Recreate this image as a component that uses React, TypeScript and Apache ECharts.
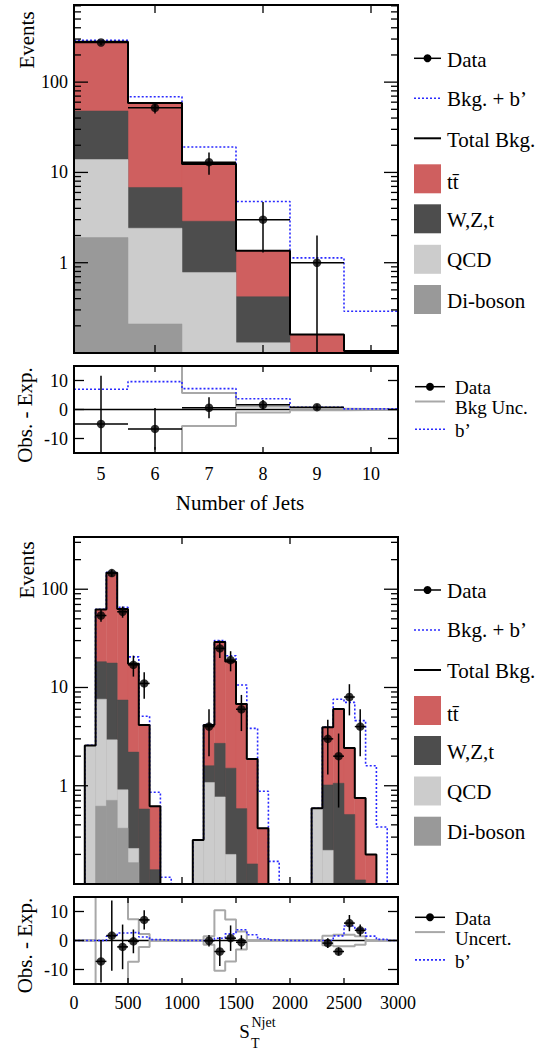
import React, { useEffect, useRef } from "react";
import * as echarts from "echarts";

const FONT = "Liberation Serif";

// ---------------- Upper figure: Number of Jets ----------------
const njetCenters = [5, 6, 7, 8, 9, 10];
const njetTtbar = [232, 52, 9.5, 0.94, 0.08, 0.05];
const njetWZt = [34, 4.4, 2.1, 0.29, 0.04, 0.03];
const njetQCD = [12.0, 2.2, 0.73, 0.11, 0.03, 0.02];
const njetDiboson = [1.9, 0.21, 0.05, 0.02, 0.01, 0.005];
const njetBkgPlusBprime = [290, 69, 19.1, 4.76, 1.13, 0.29];
const njetDataX = [5, 6, 7, 8, 9];
const njetData = [275, 52, 13, 3, 1];
const njetDataErr = [16.6, 7.2, 3.6, 1.7, 1.0];
const njetResidual = [-5.0, -6.7, 0.6, 1.6, 0.8];
const njetBkgUnc = [20, 20, 5.7, 1.0, 0.3, 0.1];
const njetBprime = [7.0, 9.6, 7.2, 3.7, 0.8, 0.2];
const njetTickX = [6, 8, 10];

// ---------------- Lower figure: S_T^Njet ----------------
const stBinLow = [0, 100, 200, 300, 400, 500, 600, 700, 800, 900, 1000, 1100, 1200, 1300, 1400, 1500, 1600, 1700, 1800, 1900, 2000, 2100, 2200, 2300, 2400, 2500, 2600, 2700, 2800, 2900];
const stTtbar = [0, 0.01, 43.7, 129.3, 55.6, 15.2, 3.57, 0.48, 0, 0, 0, 0, 2.54, 26.3, 16.9, 6.22, 1.71, 0.3, 0.05, 0, 0, 0, 0, 2.91, 4.97, 1.91, 0.64, 0.15, 0.03, 0];
const stWZt = [0, 0.01, 10.7, 14.8, 6.54, 1.97, 0.52, 0.11, 0, 0, 0, 0, 0.52, 1.93, 1.31, 0.53, 0.14, 0.06, 0.01, 0, 0, 0, 0, 0.8, 1.0, 0.49, 0.1, 0.05, 0.01, 0];
const stQCD = [0, 2.53, 6.98, 2.22, 0.54, 0.065, 0.03, 0.02, 0, 0, 0, 0.28, 1.07, 0.76, 0.19, 0.05, 0.02, 0.01, 0, 0, 0, 0, 0.59, 0.21, 0.05, 0.02, 0.01, 0, 0, 0];
const stDiboson = [0, 0.02, 0.62, 0.71, 0.37, 0.165, 0.03, 0.01, 0, 0, 0, 0, 0.01, 0.01, 0.01, 0.005, 0, 0, 0, 0, 0, 0, 0, 0.01, 0.01, 0, 0, 0, 0, 0];
const stBkgPlusBprime = [0, 2.58, 62.5, 149, 65.5, 20.5, 5.1, 0.86, 0.117, 0, 0, 0.28, 4.2, 30, 21, 10.6, 3.84, 0.88, 0.17, 0, 0, 0, 0.59, 3.95, 7.6, 7.05, 4.6, 1.6, 0.38, 0.05];
const stBprime = [0, 0, 0, 1.5, 2.6, 2.8, 1.2, 0.3, 0.1, 0, 0, 0, 0, 0.8, 2.3, 3.7, 2.0, 0.6, 0.15, 0, 0, 0, 0, 0, 1.6, 5.0, 4.0, 1.5, 0.4, 0];
const stUnc = [0, 0, 20, 20, 20, 7.3, 2.2, 0, 0, 0, 0, 0, 1.5, 10.4, 7.2, 3.1, 0, 0, 0, 0, 0, 0, 0, 1.6, 2.0, 2.0, 1.5, 0, 0, 0];
const stDataX = [250, 350, 450, 550, 650, 1250, 1350, 1450, 1550, 2350, 2450, 2550, 2650];
const stData = [54, 146, 59, 17, 11, 4, 25, 19, 6, 3, 2, 8, 4];
const stDataErr = [7.3, 12.1, 7.7, 4.1, 3.3, 2.0, 5.0, 4.4, 2.4, 1.7, 1.4, 2.8, 2.0];
const stResidual = [-7.2, 1.7, -2.2, -0.3, 7.1, -0.1, -3.8, 0.8, -0.6, -0.9, -3.8, 6.0, 3.5];
const stTickXMain = [1000, 2000];
const stTickXRes = [500, 1000, 1500, 2000, 2500];

const residTicks = [-10, 0, 10];
const logMajor = [1, 10, 100];
const logMinorMult = [2, 3, 4, 5, 6, 7, 8, 9];
const logDecades = [0.1, 1, 10, 100];

const RED = "#cf5f5f";
const WZT = "#4d4d4d";
const QCDC = "#cccccc";
const DIB = "#999999";
const BLUE = "#2a2aff";
const UNC = "#a8a8a8";

const mainLegend = [
  { label: "t\u0074\u0304", color: RED },
  { label: "W,Z,t", color: WZT },
  { label: "QCD", color: QCDC },
  { label: "Di-boson", color: DIB },
];

function cumulative(...arrs: number[][]) {
  return arrs[0].map((_, i) => arrs.reduce((s, a) => s + a[i], 0));
}

function histSeries(g: number, lows: number[], width: number, values: number[], color: string, ymin: number, ymax: number) {
  return {
    type: "custom",
    xAxisIndex: g,
    yAxisIndex: g,
    silent: true,
    z: 2,
    data: lows.map((lo, i) => [lo, lo + width, values[i]]).filter((d) => d[2] > ymin),
    encode: { x: [0, 1], y: 2 },
    renderItem: (params: any, api: any) => {
      const lo = api.value(0);
      const hi = api.value(1);
      const v = Math.min(api.value(2), ymax);
      const p1 = api.coord([lo, v]);
      const p2 = api.coord([hi, ymin]);
      return {
        type: "rect",
        shape: { x: p1[0], y: p1[1], width: p2[0] - p1[0], height: p2[1] - p1[1] },
        style: { fill: color, stroke: color, lineWidth: 0.5 },
      };
    },
  };
}

function stepSeries(g: number, lows: number[], width: number, values: number[], floor: number, lineStyle: any, z = 3) {
  const data = lows.map((lo, i) => [lo, Math.max(values[i], floor)]);
  data.push([lows[lows.length - 1] + width, Math.max(values[values.length - 1], floor)]);
  return {
    type: "line",
    xAxisIndex: g,
    yAxisIndex: g,
    step: "end",
    symbol: "none",
    silent: true,
    clip: true,
    z,
    data,
    lineStyle,
  };
}

function errSeries(g: number, xs: number[], ys: number[], errs: number[], hw: number, xmin: number, xmax: number, ymin: number, ymax: number) {
  return {
    type: "custom",
    xAxisIndex: g,
    yAxisIndex: g,
    silent: true,
    z: 4,
    data: xs.map((x, i) => [x, ys[i], errs[i]]),
    encode: { x: 0, y: 1 },
    renderItem: (params: any, api: any) => {
      const x = api.value(0);
      const y = api.value(1);
      const e = api.value(2);
      const lo = Math.max(y - e, ymin);
      const hi = Math.min(y + e, ymax);
      const pLo = api.coord([x, lo]);
      const pHi = api.coord([x, hi]);
      const pL = api.coord([Math.max(x - hw, xmin), y]);
      const pR = api.coord([Math.min(x + hw, xmax), y]);
      const st = { stroke: "#000", lineWidth: 1.5 };
      return {
        type: "group",
        children: [
          { type: "line", shape: { x1: pLo[0], y1: pLo[1], x2: pHi[0], y2: pHi[1] }, style: st },
          { type: "line", shape: { x1: pL[0], y1: pL[1], x2: pR[0], y2: pR[1] }, style: st },
        ],
      };
    },
  };
}

function scatterSeries(g: number, xs: number[], ys: number[]) {
  return {
    type: "scatter",
    xAxisIndex: g,
    yAxisIndex: g,
    silent: true,
    z: 5,
    symbol: "circle",
    symbolSize: 8.5,
    itemStyle: { color: "#000" },
    data: xs.map((x, i) => [x, ys[i]]),
  };
}

function frameSeries(g: number, xmin: number, xmax: number, ymin: number, ymax: number, yTicks: number[][], xTicks: number[][]) {
  return {
    type: "custom",
    xAxisIndex: g,
    yAxisIndex: g,
    silent: true,
    z: 10,
    data: [[xmin, ymin]],
    encode: { x: 0, y: 1 },
    renderItem: (params: any, api: any) => {
      const st = { stroke: "#000", lineWidth: 1.3 };
      const children: any[] = [];
      for (const [v, len] of yTicks) {
        const l = api.coord([xmin, v]);
        const r = api.coord([xmax, v]);
        children.push({ type: "line", shape: { x1: l[0], y1: l[1], x2: l[0] + len, y2: l[1] }, style: st });
        children.push({ type: "line", shape: { x1: r[0] - len, y1: r[1], x2: r[0], y2: r[1] }, style: st });
      }
      for (const [v, len] of xTicks) {
        const b = api.coord([v, ymin]);
        const t = api.coord([v, ymax]);
        children.push({ type: "line", shape: { x1: b[0], y1: b[1], x2: b[0], y2: b[1] - len }, style: st });
        children.push({ type: "line", shape: { x1: t[0], y1: t[1], x2: t[0], y2: t[1] + len }, style: st });
      }
      const tl = api.coord([xmin, ymax]);
      const br = api.coord([xmax, ymin]);
      children.push({
        type: "rect",
        shape: { x: tl[0], y: tl[1], width: br[0] - tl[0], height: br[1] - tl[1] },
        style: { fill: "none", stroke: "#000", lineWidth: 2 },
      });
      return { type: "group", children };
    },
  };
}

function logTicks(ymax: number) {
  const t: number[][] = logMajor.map((v) => [v, 14]);
  for (const d of logDecades) for (const k of logMinorMult) if (d * k < ymax) t.push([d * k, 7]);
  return t;
}

function gText(x: number, y: number, text: string, size = 21, align = "left", rotation = 0) {
  return {
    type: "text",
    x,
    y,
    rotation,
    silent: true,
    z: 20,
    style: { text, fontSize: size, fontFamily: FONT, fill: "#000", align, verticalAlign: "middle", textAlign: align, textVerticalAlign: "middle" },
  };
}

function gLine(x1: number, y1: number, x2: number, y2: number, stroke: string, lineWidth: number, lineDash?: number[]) {
  return { type: "line", silent: true, z: 20, shape: { x1, y1, x2, y2 }, style: { stroke, lineWidth, lineDash } };
}

function legendMain(dy: number) {
  const els: any[] = [];
  const x1 = 414, x2 = 441, tx = 447;
  els.push(gLine(x1, 58.3 + dy, x2, 58.3 + dy, "#000", 1.5));
  els.push({ type: "circle", silent: true, z: 20, shape: { cx: (x1 + x2) / 2, cy: 58.3 + dy, r: 4 }, style: { fill: "#000" } });
  els.push(gText(tx, 59.5 + dy, "Data"));
  els.push(gLine(x1, 98.3 + dy, x2, 98.3 + dy, BLUE, 1.6, [2, 2]));
  els.push(gText(tx, 98.5 + dy, "Bkg. + b\u2019"));
  els.push(gLine(x1, 138.3 + dy, x2, 138.3 + dy, "#000", 2));
  els.push(gText(tx, 139.5 + dy, "Total Bkg."));
  const boxTop = [164.3, 204.3, 244.8, 285];
  mainLegend.forEach((it, i) => {
    els.push({ type: "rect", silent: true, z: 20, shape: { x: x1, y: boxTop[i] + dy, width: 27, height: 29 }, style: { fill: it.color } });
    els.push(gText(tx, boxTop[i] + 15.5 + dy + (i === 0 ? 2 : 0), it.label));
  });
  return els;
}

function legendRes(dy: number, uncLabel: string) {
  const x1 = 415, x2 = 445, tx = 455;
  return [
    gLine(x1, 386.7 + dy, x2, 386.7 + dy, "#000", 1.5),
    { type: "circle", silent: true, z: 20, shape: { cx: (x1 + x2) / 2, cy: 386.7 + dy, r: 4 }, style: { fill: "#000" } },
    gText(tx, 387.5 + dy, "Data", 19),
    gLine(x1, 401.5 + dy, x2, 401.5 + dy, UNC, 2),
    gText(tx, 407.5 + dy, uncLabel, 19),
    gLine(x1, 429.3 + dy, x2, 429.3 + dy, BLUE, 1.6, [2, 2]),
    gText(tx, 430.5 + dy, "b\u2019", 19),
  ];
}

function buildOption() {
  const T = { xmin: 4.5, xmax: 10.5, ymin: 0.1, ymax: 715 };
  const B = { xmin: 0, xmax: 3000, ymin: 0.1, ymax: 340 };
  const R = { min: -15, max: 15 };

  const njetLow = njetCenters.map((c) => c - 0.5);
  const njetTotal = cumulative(njetTtbar, njetWZt, njetQCD, njetDiboson);
  const njetWZtCum = cumulative(njetWZt, njetQCD, njetDiboson);
  const njetQCDCum = cumulative(njetQCD, njetDiboson);

  const stTotal = cumulative(stTtbar, stWZt, stQCD, stDiboson);
  const stWZtCum = cumulative(stWZt, stQCD, stDiboson);
  const stQCDCum = cumulative(stQCD, stDiboson);

  const labelBase = { color: "#000", fontFamily: FONT, fontSize: 18 };
  const logFmt = (v: number) => {
    const l = Math.log10(v);
    const r = Math.round(l);
    if (Math.abs(l - r) < 1e-6 && r >= 0 && r <= 2) return String(Math.round(Math.pow(10, r)));
    return "";
  };
  const resFmt = (v: number) => (Math.abs(Math.abs(v) - 10) < 1e-9 || Math.abs(v) < 1e-9 ? String(Math.round(v)) : "");
  const intFmt = (v: number) => (Math.abs(v - Math.round(v)) < 1e-9 ? String(Math.round(v)) : "");
  const hidden = { axisLine: { show: false }, axisTick: { show: false }, splitLine: { show: false } };

  const resYTicks = residTicks.map((v) => [v, 10]);
  const floorLog = 1e-3;

  const series: any[] = [
    // ---- grid 0: Njet main
    histSeries(0, njetLow, 1, njetTotal, RED, T.ymin, T.ymax),
    histSeries(0, njetLow, 1, njetWZtCum, WZT, T.ymin, T.ymax),
    histSeries(0, njetLow, 1, njetQCDCum, QCDC, T.ymin, T.ymax),
    histSeries(0, njetLow, 1, njetDiboson, DIB, T.ymin, T.ymax),
    stepSeries(0, njetLow, 1, njetBkgPlusBprime, floorLog, { color: BLUE, width: 1.6, type: [2, 2] }),
    stepSeries(0, njetLow, 1, njetTotal, floorLog, { color: "#000", width: 2 }),
    errSeries(0, njetDataX, njetData, njetDataErr, 0.5, T.xmin, T.xmax, T.ymin, T.ymax),
    scatterSeries(0, njetDataX, njetData),
    frameSeries(0, T.xmin, T.xmax, T.ymin, T.ymax, logTicks(T.ymax), njetTickX.map((v) => [v, 8])),
    // ---- grid 1: Njet residual
    { type: "line", xAxisIndex: 1, yAxisIndex: 1, symbol: "none", silent: true, z: 2, data: [[T.xmin, 0], [T.xmax, 0]], lineStyle: { color: "#000", width: 1.5 } },
    stepSeries(1, njetLow, 1, njetBkgUnc, -Infinity, { color: UNC, width: 2 }),
    stepSeries(1, njetLow, 1, njetBkgUnc.map((v) => -v), -Infinity, { color: UNC, width: 2 }),
    stepSeries(1, njetLow, 1, njetBprime, -Infinity, { color: BLUE, width: 1.6, type: [2, 2] }),
    errSeries(1, njetDataX, njetResidual, njetDataErr, 0.5, T.xmin, T.xmax, R.min, R.max),
    scatterSeries(1, njetDataX, njetResidual),
    frameSeries(1, T.xmin, T.xmax, R.min, R.max, resYTicks, njetTickX.map((v) => [v, 6])),
    // ---- grid 2: S_T main
    histSeries(2, stBinLow, 100, stTotal, RED, B.ymin, B.ymax),
    histSeries(2, stBinLow, 100, stWZtCum, WZT, B.ymin, B.ymax),
    histSeries(2, stBinLow, 100, stQCDCum, QCDC, B.ymin, B.ymax),
    histSeries(2, stBinLow, 100, stDiboson, DIB, B.ymin, B.ymax),
    stepSeries(2, stBinLow, 100, stBkgPlusBprime, floorLog, { color: BLUE, width: 1.6, type: [2, 2] }),
    stepSeries(2, stBinLow, 100, stTotal, floorLog, { color: "#000", width: 2 }),
    errSeries(2, stDataX, stData, stDataErr, 50, B.xmin, B.xmax, B.ymin, B.ymax),
    scatterSeries(2, stDataX, stData),
    frameSeries(2, B.xmin, B.xmax, B.ymin, B.ymax, logTicks(B.ymax), stTickXMain.map((v) => [v, 7])),
    // ---- grid 3: S_T residual
    { type: "line", xAxisIndex: 3, yAxisIndex: 3, symbol: "none", silent: true, z: 2, data: [[B.xmin, 0], [B.xmax, 0]], lineStyle: { color: "#000", width: 1.5 } },
    stepSeries(3, stBinLow, 100, stUnc, -Infinity, { color: UNC, width: 2 }),
    stepSeries(3, stBinLow, 100, stUnc.map((v) => -v), -Infinity, { color: UNC, width: 2 }),
    stepSeries(3, stBinLow, 100, stBprime, -Infinity, { color: BLUE, width: 1.6, type: [2, 2] }),
    errSeries(3, stDataX, stResidual, stDataErr, 50, B.xmin, B.xmax, R.min, R.max),
    scatterSeries(3, stDataX, stResidual),
    frameSeries(3, B.xmin, B.xmax, R.min, R.max, resYTicks, stTickXRes.map((v) => [v, 6])),
  ];

  const graphic: any[] = [
    gText(26.5, 40, "Events", 21, "center", Math.PI / 2),
    gText(24.5, 415, "Obs. - Exp.", 21, "center", Math.PI / 2),
    gText(240, 503, "Number of Jets", 21, "center"),
    gText(26.5, 570, "Events", 21, "center", Math.PI / 2),
    gText(24.5, 945.5, "Obs. - Exp.", 21, "center", Math.PI / 2),
    gText(244.5, 1031, "S", 19, "center"),
    gText(251.5, 1022.5, "Njet", 14, "left"),
    gText(251, 1043.5, "T", 14, "left"),
    ...legendMain(0),
    ...legendRes(0, "Bkg Unc."),
    ...legendMain(531.7),
    ...legendRes(530.6, "Uncert."),
  ];

  return {
    animation: false,
    backgroundColor: "#fff",
    textStyle: { fontFamily: FONT },
    grid: [
      { left: 74, top: 5, width: 324, height: 348, outerBoundsMode: "none" },
      { left: 74, top: 366, width: 324, height: 87, outerBoundsMode: "none" },
      { left: 74, top: 537, width: 324, height: 347, outerBoundsMode: "none" },
      { left: 74, top: 897, width: 324, height: 87, outerBoundsMode: "none" },
    ],
    xAxis: [
      { gridIndex: 0, type: "value", min: T.xmin, max: T.xmax, axisLabel: { show: false }, ...hidden },
      { gridIndex: 1, type: "value", min: T.xmin, max: T.xmax, splitNumber: 6, axisLabel: { ...labelBase, margin: 12, formatter: intFmt }, ...hidden },
      { gridIndex: 2, type: "value", min: B.xmin, max: B.xmax, axisLabel: { show: false }, ...hidden },
      { gridIndex: 3, type: "value", min: B.xmin, max: B.xmax, interval: 500, axisLabel: { ...labelBase, margin: 10, formatter: intFmt }, ...hidden },
    ],
    yAxis: [
      { gridIndex: 0, type: "log", logBase: 10, min: T.ymin, max: T.ymax, axisLabel: { ...labelBase, margin: 6, formatter: logFmt }, ...hidden },
      { gridIndex: 1, type: "value", min: R.min, max: R.max, axisLabel: { ...labelBase, margin: 6, formatter: resFmt }, ...hidden },
      { gridIndex: 2, type: "log", logBase: 10, min: B.ymin, max: B.ymax, axisLabel: { ...labelBase, margin: 6, formatter: logFmt }, ...hidden },
      { gridIndex: 3, type: "value", min: R.min, max: R.max, axisLabel: { ...labelBase, margin: 6, formatter: resFmt }, ...hidden },
    ],
    series,
    graphic,
  };
}

export default function App() {
  const ref = useRef<HTMLDivElement>(null);
  useEffect(() => {
    if (!ref.current) return;
    const chart = echarts.init(ref.current, null, { renderer: "svg" });
    chart.setOption(buildOption() as any);
    return () => chart.dispose();
  }, []);
  return <div ref={ref} style={{ position: "absolute", left: 0, top: 0, width: 537, height: 1050 }} />;
}
